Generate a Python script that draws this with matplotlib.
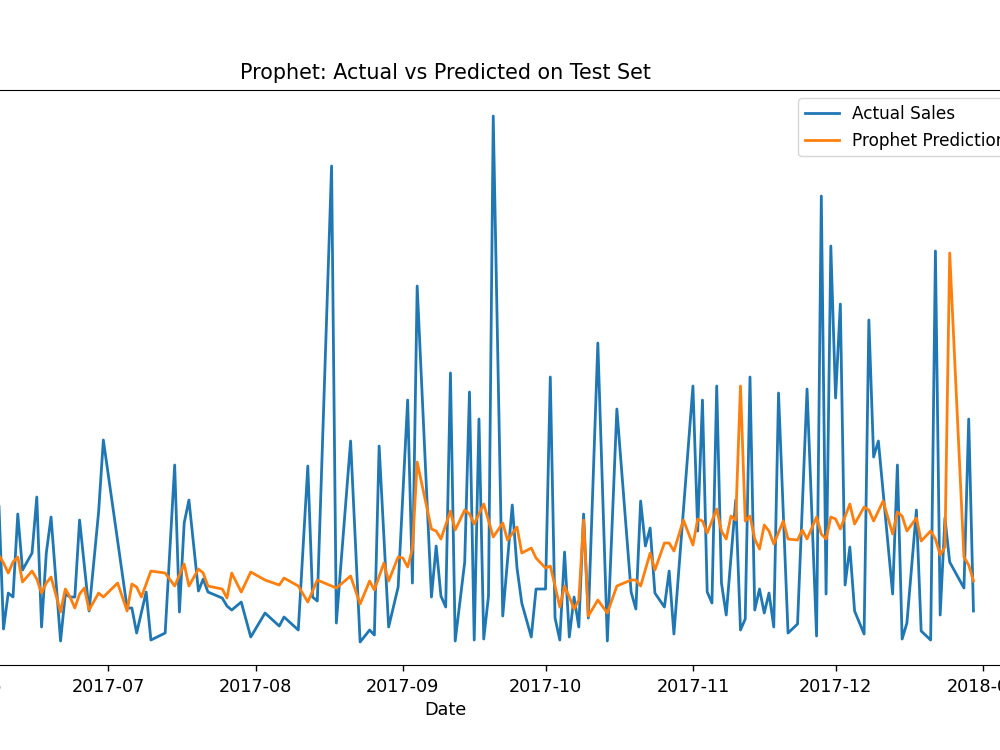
import pandas as pd
import matplotlib
matplotlib.use("Agg")
import matplotlib.pyplot as plt
import matplotlib.dates as mdates


# actual sales on the test dates (some days are missing)
ACTUAL_DATES = [
    "2017-06-08", "2017-06-09", "2017-06-10", "2017-06-11", "2017-06-12", "2017-06-13",
    "2017-06-15", "2017-06-16", "2017-06-17", "2017-06-18", "2017-06-19", "2017-06-21",
    "2017-06-22", "2017-06-23", "2017-06-24", "2017-06-25", "2017-06-27", "2017-06-29",
    "2017-06-30", "2017-07-05", "2017-07-06", "2017-07-07", "2017-07-09", "2017-07-10",
    "2017-07-13", "2017-07-15", "2017-07-16", "2017-07-17", "2017-07-18", "2017-07-20",
    "2017-07-21", "2017-07-22", "2017-07-25", "2017-07-26", "2017-07-27", "2017-07-29",
    "2017-07-31", "2017-08-03", "2017-08-06", "2017-08-07", "2017-08-10", "2017-08-12",
    "2017-08-13", "2017-08-14", "2017-08-17", "2017-08-18", "2017-08-21", "2017-08-23",
    "2017-08-25", "2017-08-26", "2017-08-27", "2017-08-29", "2017-08-31", "2017-09-02",
    "2017-09-03", "2017-09-04", "2017-09-07", "2017-09-08", "2017-09-09", "2017-09-10",
    "2017-09-11", "2017-09-12", "2017-09-14", "2017-09-15", "2017-09-16", "2017-09-17",
    "2017-09-18", "2017-09-19", "2017-09-20", "2017-09-22", "2017-09-24", "2017-09-25",
    "2017-09-26", "2017-09-28", "2017-09-29", "2017-10-01", "2017-10-02", "2017-10-03",
    "2017-10-04", "2017-10-05", "2017-10-06", "2017-10-07", "2017-10-08", "2017-10-09",
    "2017-10-10", "2017-10-12", "2017-10-14", "2017-10-16", "2017-10-19", "2017-10-20",
    "2017-10-21", "2017-10-22", "2017-10-23", "2017-10-24", "2017-10-26", "2017-10-27",
    "2017-10-28", "2017-11-01", "2017-11-02", "2017-11-03", "2017-11-04", "2017-11-05",
    "2017-11-06", "2017-11-07", "2017-11-08", "2017-11-10", "2017-11-11", "2017-11-12",
    "2017-11-13", "2017-11-14", "2017-11-15", "2017-11-16", "2017-11-17", "2017-11-18",
    "2017-11-19", "2017-11-21", "2017-11-23", "2017-11-25", "2017-11-27", "2017-11-28",
    "2017-11-29", "2017-11-30", "2017-12-01", "2017-12-02", "2017-12-03", "2017-12-04",
    "2017-12-05", "2017-12-07", "2017-12-08", "2017-12-09", "2017-12-10", "2017-12-13",
    "2017-12-14", "2017-12-15", "2017-12-16", "2017-12-18", "2017-12-19", "2017-12-21",
    "2017-12-22", "2017-12-23", "2017-12-24", "2017-12-25", "2017-12-28", "2017-12-29",
    "2017-12-30",
]
ACTUAL_SALES = [
    33.0, 7.2, 14.4, 13.6, 30.2, 19.0,
    22.4, 33.6, 7.6, 22.4, 29.6, 4.8,
    14.2, 13.6, 13.6, 29.0, 10.8, 30.6,
    45.0, 11.4, 11.4, 6.4, 14.6, 5.0,
    6.4, 40.0, 10.6, 28.4, 33.0, 14.8,
    17.2, 14.6, 13.4, 11.8, 11.0, 12.6,
    5.6, 10.4, 7.8, 9.6, 7.0, 39.8,
    13.6, 12.8, 99.8, 8.4, 44.8, 4.6,
    7.0, 6.0, 43.8, 7.6, 15.6, 53.0,
    16.4, 75.8, 13.6, 23.8, 13.8, 11.6,
    58.4, 4.8, 20.6, 54.6, 5.0, 49.2,
    5.2, 13.8, 109.8, 9.8, 32.0, 19.4,
    12.4, 5.6, 15.2, 15.2, 57.6, 9.4,
    5.0, 22.6, 5.6, 13.6, 7.6, 30.2,
    9.4, 64.4, 4.8, 51.2, 14.6, 11.2,
    32.8, 23.8, 27.4, 14.4, 11.6, 18.8,
    6.2, 55.8, 26.8, 53.0, 14.6, 12.4,
    55.8, 16.4, 10.0, 33.0, 7.0, 9.2,
    57.6, 11.0, 15.2, 10.4, 14.4, 7.6,
    54.4, 6.4, 8.2, 55.2, 5.8, 93.8,
    14.2, 83.8, 53.4, 72.2, 16.0, 23.6,
    10.8, 6.2, 69.0, 41.6, 44.8, 14.2,
    40.0, 5.2, 8.4, 31.0, 6.8, 5.0,
    82.8, 10.0, 29.4, 20.6, 15.4, 49.2,
    10.8,
]

# prophet forecast (yhat)
PRED_DATES = [
    "2017-06-08", "2017-06-09", "2017-06-10", "2017-06-11", "2017-06-12", "2017-06-13",
    "2017-06-15", "2017-06-16", "2017-06-17", "2017-06-18", "2017-06-19", "2017-06-21",
    "2017-06-22", "2017-06-23", "2017-06-24", "2017-06-25", "2017-06-26", "2017-06-27",
    "2017-06-29", "2017-06-30", "2017-07-03", "2017-07-05", "2017-07-06", "2017-07-07",
    "2017-07-08", "2017-07-10", "2017-07-13", "2017-07-15", "2017-07-17", "2017-07-18",
    "2017-07-20", "2017-07-21", "2017-07-22", "2017-07-25", "2017-07-26", "2017-07-27",
    "2017-07-29", "2017-07-31", "2017-08-03", "2017-08-06", "2017-08-07", "2017-08-10",
    "2017-08-12", "2017-08-14", "2017-08-17", "2017-08-18", "2017-08-21", "2017-08-23",
    "2017-08-25", "2017-08-26", "2017-08-28", "2017-08-29", "2017-08-31", "2017-09-01",
    "2017-09-02", "2017-09-03", "2017-09-04", "2017-09-07", "2017-09-08", "2017-09-09",
    "2017-09-11", "2017-09-12", "2017-09-14", "2017-09-15", "2017-09-16", "2017-09-18",
    "2017-09-20", "2017-09-22", "2017-09-23", "2017-09-25", "2017-09-26", "2017-09-28",
    "2017-09-29", "2017-10-01", "2017-10-02", "2017-10-03", "2017-10-04", "2017-10-05",
    "2017-10-06", "2017-10-07", "2017-10-08", "2017-10-09", "2017-10-10", "2017-10-12",
    "2017-10-14", "2017-10-16", "2017-10-19", "2017-10-20", "2017-10-21", "2017-10-23",
    "2017-10-24", "2017-10-26", "2017-10-27", "2017-10-28", "2017-10-30", "2017-11-01",
    "2017-11-02", "2017-11-03", "2017-11-04", "2017-11-06", "2017-11-07", "2017-11-08",
    "2017-11-09", "2017-11-10", "2017-11-11", "2017-11-12", "2017-11-13", "2017-11-14",
    "2017-11-15", "2017-11-16", "2017-11-17", "2017-11-18", "2017-11-20", "2017-11-21",
    "2017-11-23", "2017-11-24", "2017-11-25", "2017-11-27", "2017-11-28", "2017-11-29",
    "2017-11-30", "2017-12-01", "2017-12-02", "2017-12-04", "2017-12-05", "2017-12-07",
    "2017-12-08", "2017-12-09", "2017-12-11", "2017-12-13", "2017-12-14", "2017-12-15",
    "2017-12-16", "2017-12-18", "2017-12-19", "2017-12-21", "2017-12-22", "2017-12-23",
    "2017-12-24", "2017-12-25", "2017-12-28", "2017-12-29", "2017-12-30",
]
PRED_SALES = [
    22.0, 20.4, 18.4, 20.6, 21.6, 16.6,
    18.8, 17.2, 14.4, 16.4, 17.6, 10.6,
    15.2, 13.6, 11.4, 14.2, 15.4, 11.0,
    14.4, 13.6, 16.4, 10.8, 16.2, 15.6,
    13.6, 18.8, 18.4, 15.8, 20.2, 15.8,
    19.2, 18.4, 15.8, 15.2, 13.4, 18.4,
    14.6, 18.6, 17.0, 16.0, 17.4, 15.8,
    12.6, 17.0, 15.8, 15.4, 17.8, 12.2,
    16.8, 15.0, 20.4, 16.8, 21.6, 21.4,
    19.6, 23.2, 40.6, 27.2, 26.8, 25.2,
    30.8, 27.0, 31.0, 30.2, 28.2, 32.2,
    25.6, 28.4, 25.0, 27.6, 22.4, 23.4,
    21.4, 19.4, 19.8, 15.8, 11.6, 15.8,
    13.6, 11.2, 13.0, 29.0, 9.8, 13.0,
    10.4, 15.8, 17.0, 17.0, 15.8, 22.4,
    19.0, 24.4, 24.4, 22.8, 29.0, 24.0,
    29.2, 28.8, 26.4, 31.2, 26.8, 25.2,
    29.8, 29.0, 55.8, 28.8, 29.8, 25.2,
    23.2, 28.0, 26.8, 24.2, 28.8, 25.2,
    25.0, 27.0, 25.2, 29.6, 26.2, 25.2,
    29.6, 29.2, 27.2, 32.2, 28.2, 31.6,
    31.0, 28.8, 32.8, 26.2, 30.6, 29.8,
    26.8, 29.4, 24.8, 26.8, 25.2, 22.0,
    23.6, 82.4, 21.6, 20.0, 16.8,
]


def main():
    actual = pd.DataFrame({"ds": pd.to_datetime(ACTUAL_DATES), "y": ACTUAL_SALES})
    pred = pd.DataFrame({"ds": pd.to_datetime(PRED_DATES), "yhat": PRED_SALES})

    fig = plt.figure(figsize=(10, 7.5), dpi=100)
    # the picture is a crop of a wider plot: the axes run past both figure edges
    ax = fig.add_axes([-0.132, 0.1133, 1.154, 0.7667])

    ax.plot(actual["ds"], actual["y"], label="Actual Sales", linewidth=2.0)
    ax.plot(pred["ds"], pred["yhat"], label="Prophet Prediction", linewidth=2.0)

    ax.set_xlim(pd.Timestamp("2017-05-11 12:00"), pd.Timestamp("2018-01-09 05:00"))
    ax.set_ylim(0, 115)
    ax.xaxis.set_major_locator(mdates.MonthLocator())
    ax.xaxis.set_major_formatter(mdates.DateFormatter("%Y-%m"))
    ax.tick_params(axis="x", labelsize=12.7, length=4.5, width=1, pad=4.5)
    # y axis sits outside the visible crop
    ax.tick_params(axis="y", left=False, labelleft=False)

    ax.set_title("Prophet: Actual vs Predicted on Test Set", fontsize=14.9, pad=8)
    ax.set_xlabel("Date", fontsize=12.7)
    ax.legend(loc="upper right", fontsize=12.2)

    fig.savefig("out.png", dpi=100)


if __name__ == "__main__":
    main()
